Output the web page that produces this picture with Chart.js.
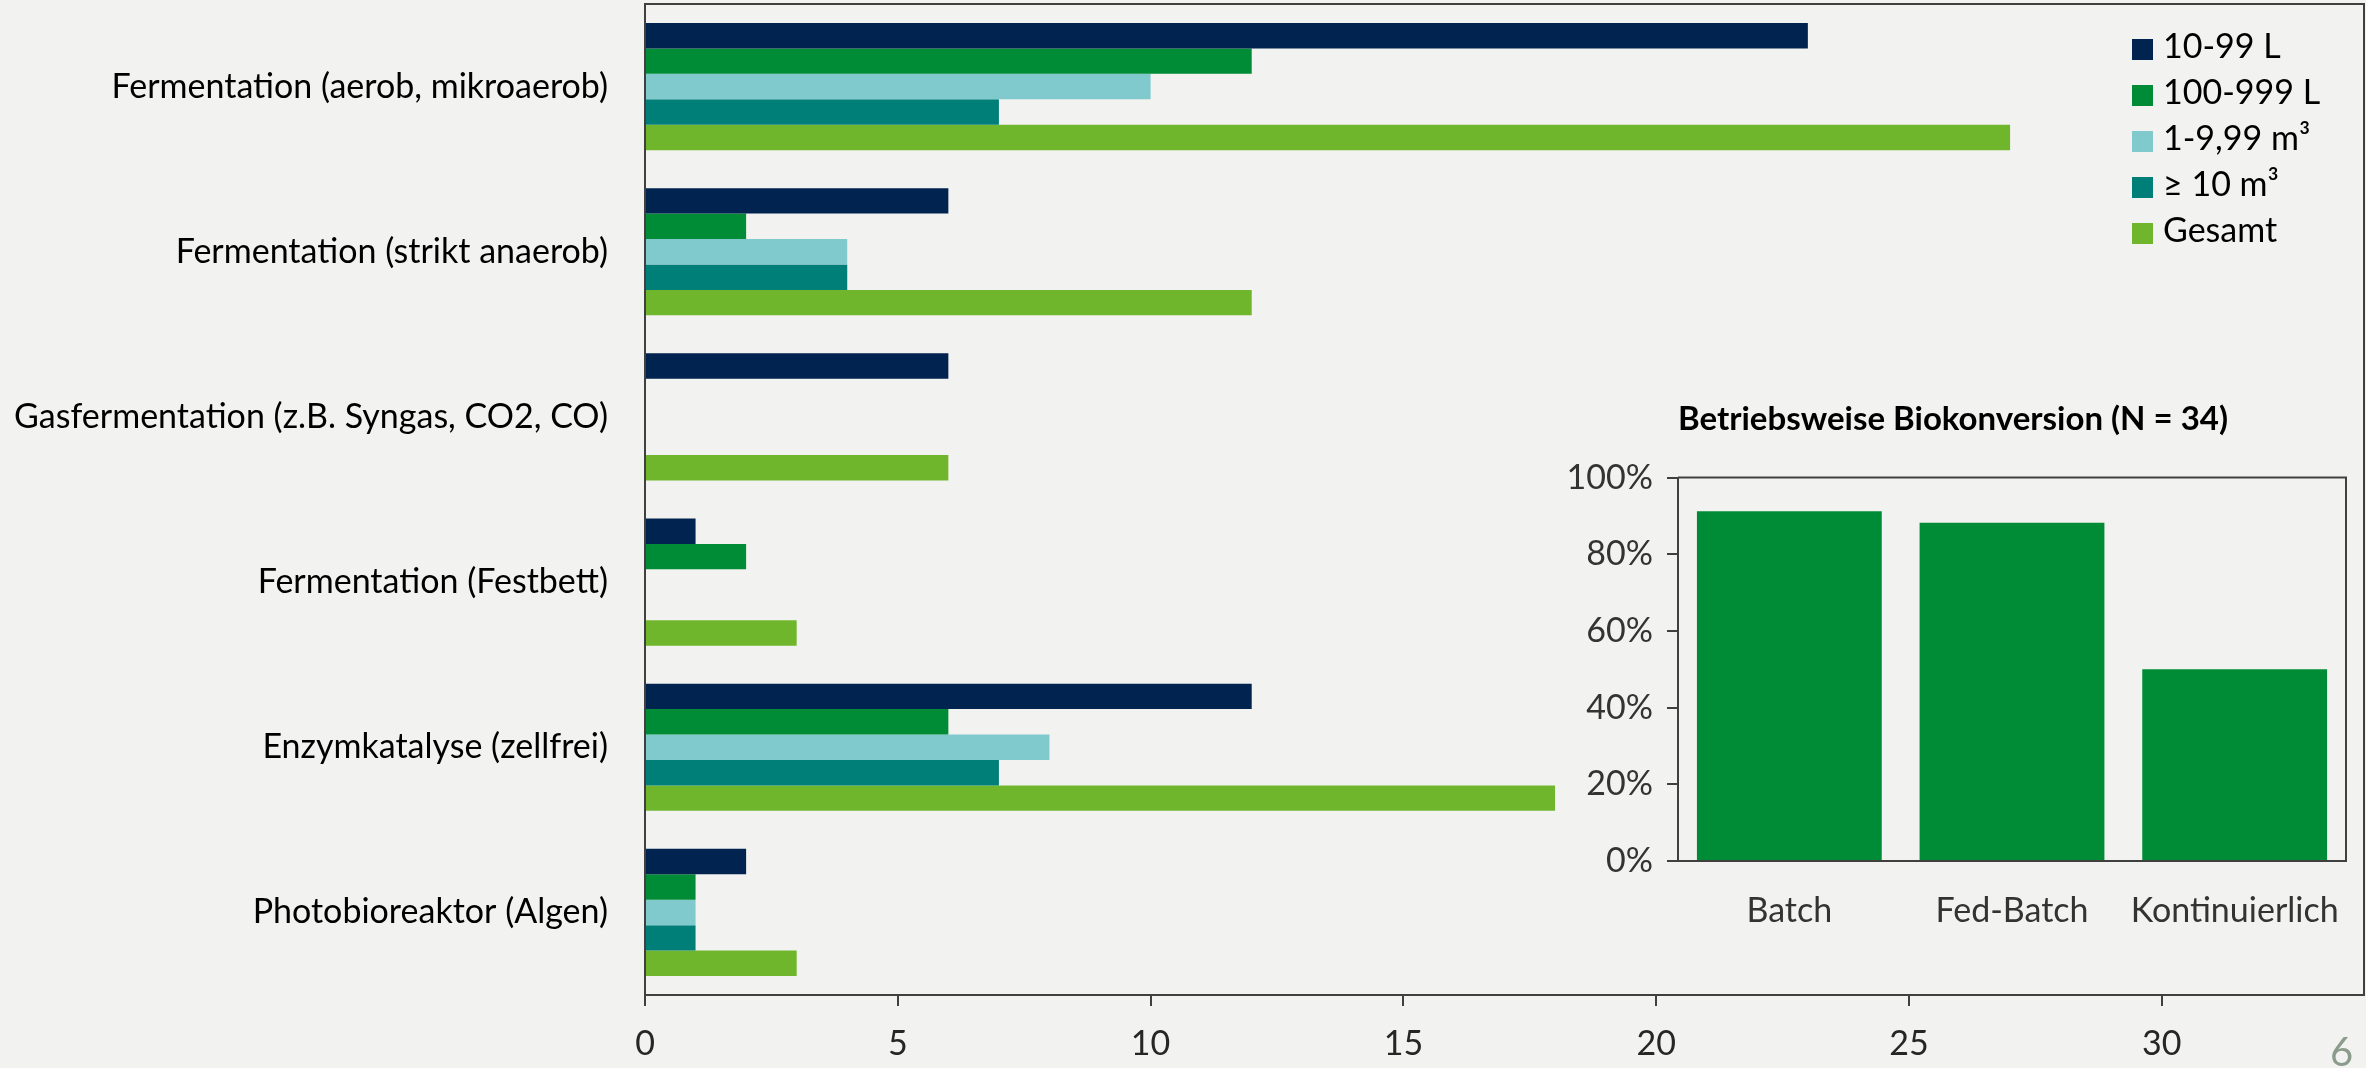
<!DOCTYPE html>
<html>
<head>
<meta charset="utf-8">
<script src="https://cdn.jsdelivr.net/npm/chart.js@4.4.1/dist/chart.umd.min.js"></script>
<style>
html, body { margin: 0; padding: 0; background: #f2f2f0; overflow: hidden; }
#wrap { position: relative; width: 2366px; height: 1068px; }
#main { position: absolute; left: 0; top: 0; }
#inset { position: absolute; left: 1560px; top: 380px; }
#legend { position: absolute; left: 2132px; top: 22px; font-family: Lato, sans-serif; font-size: 34px; color: #000; }
#legend div { height: 46px; line-height: 46px; white-space: nowrap; }
#legend span.box { display: inline-block; width: 21px; height: 21px; margin-right: 10px; vertical-align: -2px; }
#page { position: absolute; left: 2330px; top: 1026px; font-family: Lato, sans-serif; font-size: 40px; color: #8c9c8c; line-height: 50px; }
</style>
</head>
<body>
<div id="wrap">
  <canvas id="main" width="2366" height="1068"></canvas>
  <canvas id="inset" width="806" height="580"></canvas>
  <div id="legend"></div>
  <div id="page">6</div>
</div>
<script>
// categories (process types)
const processes = [
  'Fermentation (aerob, mikroaerob)',
  'Fermentation (strikt anaerob)',
  'Gasfermentation (z.B. Syngas, CO2, CO)',
  'Fermentation (Festbett)',
  'Enzymkatalyse (zellfrei)',
  'Photobioreaktor (Algen)'
]

// series: reactor scale
const seriesNames = ['10-99 L', '100-999 L', '1-9,99 m³', '≥ 10 m³', 'Gesamt']
const seriesColors = ['#00234f', '#008b36', '#80cace', '#007f79', '#70b62c']
const vol10to99 = [23, 6, 6, 1, 12, 2]
const vol100to999 = [12, 2, 0, 2, 6, 1]
const vol1to10 = [10, 4, 0, 0, 8, 1]
const vol10plus = [7, 4, 0, 0, 7, 1]
const total = [27, 12, 6, 3, 18, 3]
const seriesValues = [vol10to99, vol100to999, vol1to10, vol10plus, total]

// inset: operating mode share
const modeLabels = ['Batch', 'Fed-Batch', 'Kontinuierlich']
const modeShare = [91.2, 88.2, 50]
const insetTitle = 'Betriebsweise Biokonversion (N = 34)'

const FONT = 'Lato'
const axisColor = '#404040'

// draws the top + right frame of a chart area
const frame = {
  id: 'frame',
  afterDraw(chart) {
    const a = chart.chartArea
    const ctx = chart.ctx
    ctx.save()
    ctx.strokeStyle = axisColor
    ctx.lineWidth = 2
    ctx.beginPath()
    ctx.moveTo(a.left, a.top)
    ctx.lineTo(a.right, a.top)
    ctx.lineTo(a.right, a.bottom)
    ctx.stroke()
    ctx.restore()
  }
}

let datasets = seriesNames.map((name, i) => ({
  label: name,
  data: seriesValues[i],
  backgroundColor: seriesColors[i],
  borderWidth: 0,
  categoryPercentage: 0.77,
  barPercentage: 1
}))

new Chart(document.getElementById('main'), {
  type: 'bar',
  data: { labels: processes, datasets: datasets },
  options: {
    responsive: false,
    animation: false,
    indexAxis: 'y',
    layout: { padding: { left: 0, top: 4, right: 2, bottom: 0 } },
    plugins: { legend: { display: false }, tooltip: { enabled: false } },
    scales: {
      x: {
        min: 0, max: 34,
        ticks: { stepSize: 5, includeBounds: false, padding: 18, color: '#262626', font: { family: FONT, size: 34 } },
        grid: { drawOnChartArea: false, tickLength: 11, color: axisColor, lineWidth: 2 },
        border: { color: axisColor, width: 2 },
        afterFit: s => { s.height = 73; s.paddingLeft = 0; s.paddingRight = 0 }
      },
      y: {
        ticks: { padding: 37, color: '#000', font: { family: FONT, size: 34 } },
        grid: { drawOnChartArea: false, drawTicks: false },
        border: { color: axisColor, width: 2 },
        // label padding would otherwise push the plot top down
        afterFit: s => { s.width = 645; s.paddingTop = 0; s.paddingBottom = 0 }
      }
    }
  },
  plugins: [frame]
})

new Chart(document.getElementById('inset'), {
  type: 'bar',
  data: {
    labels: modeLabels,
    datasets: [{ data: modeShare, backgroundColor: '#008b36', borderWidth: 0, categoryPercentage: 0.83, barPercentage: 1 }]
  },
  options: {
    responsive: false,
    animation: false,
    layout: { padding: { left: 0, top: 0, right: 20, bottom: 0 } },
    plugins: {
      legend: { display: false },
      tooltip: { enabled: false },
      title: {
        display: true, text: insetTitle, color: '#000',
        font: { family: FONT, size: 33, weight: 'bold' },
        padding: { top: 20, bottom: 38 }
      }
    },
    scales: {
      x: {
        ticks: { padding: 30, color: '#333', font: { family: FONT, size: 34 } },
        grid: { drawOnChartArea: false, drawTicks: false },
        border: { color: axisColor, width: 2 },
        afterFit: s => { s.height = 99; s.paddingLeft = 0; s.paddingRight = 0 }
      },
      y: {
        min: 0, max: 100,
        ticks: { stepSize: 20, padding: 14, color: '#333', font: { family: FONT, size: 34 }, callback: v => v + '%' },
        grid: { drawOnChartArea: false, tickLength: 11, color: axisColor, lineWidth: 2 },
        border: { color: axisColor, width: 2 },
        afterFit: s => { s.width = 118; s.paddingTop = 0; s.paddingBottom = 0 }
      }
    }
  },
  plugins: [frame]
})

// html legend
const legendBox = document.getElementById('legend')
seriesNames.forEach((name, i) => {
  const row = document.createElement('div')
  row.innerHTML = `<span class="box" style="background:${seriesColors[i]}"></span>${name}`
  legendBox.appendChild(row)
})
</script>
</body>
</html>
